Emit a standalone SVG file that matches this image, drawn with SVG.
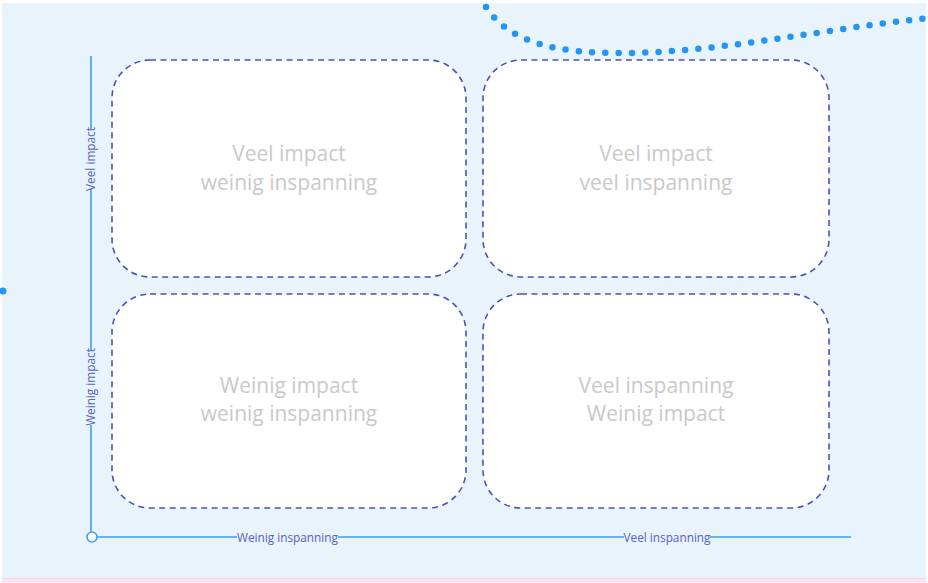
<svg xmlns="http://www.w3.org/2000/svg" width="928" height="583" viewBox="0 0 928 583">
<style>
.box{fill:#ffffff;stroke:#4a52b8;stroke-width:1.6;stroke-dasharray:6 4.5}
.qt{font-family:"Open Sans","Noto Sans",sans-serif;font-size:21px;fill:#c9c9c9;text-anchor:middle}
.ax{stroke:#3d9ff0;stroke-width:1.6;fill:none}
.al{font-family:"Open Sans","Noto Sans",sans-serif;font-size:11.8px;fill:#5661c0;text-anchor:middle;dominant-baseline:central}
</style>
<rect x="0" y="0" width="928" height="583" fill="#ffffff"/>
<rect x="2" y="3" width="924" height="575" fill="#e8f3fc"/>
<rect x="2" y="578" width="924" height="5" fill="#fbe4f1"/>
<line x1="2" y1="578.5" x2="926" y2="578.5" stroke="#f3d6e6" stroke-width="1"/>
<path d="M486,7 C510,44 560,53 620,53 C720,53 820,29 930,18" fill="none" stroke="#2196f3" stroke-width="6.5" stroke-linecap="round" stroke-dasharray="0 13.3"/>
<circle cx="3" cy="291" r="3.5" fill="#2196f3"/>
<g id="node-q1">
<rect class="box" x="112" y="60" width="354" height="217" rx="38"/>
<text class="qt" x="289" y="161">Veel impact</text>
<text class="qt" x="289" y="190">weinig inspanning</text>
</g>
<g id="node-q2">
<rect class="box" x="483" y="60" width="346" height="217" rx="38"/>
<text class="qt" x="656" y="161">Veel impact</text>
<text class="qt" x="656" y="190">veel inspanning</text>
</g>
<g id="node-q3">
<rect class="box" x="112" y="294" width="354" height="214" rx="38"/>
<text class="qt" x="289" y="393">Weinig impact</text>
<text class="qt" x="289" y="421">weinig inspanning</text>
</g>
<g id="node-q4">
<rect class="box" x="483" y="294" width="346" height="214" rx="38"/>
<text class="qt" x="656" y="393">Veel inspanning</text>
<text class="qt" x="656" y="421">Weinig impact</text>
</g>
<g id="connectors">
<line class="ax" x1="91" y1="56" x2="91" y2="129"/>
<line class="ax" x1="91" y1="189" x2="91" y2="350"/>
<line class="ax" x1="91" y1="425" x2="91" y2="532"/>
<line class="ax" x1="97" y1="537" x2="237" y2="537"/>
<line class="ax" x1="338" y1="537" x2="624" y2="537"/>
<line class="ax" x1="710" y1="537" x2="851" y2="537"/>
<circle cx="92" cy="537" r="5" fill="#ffffff" stroke="#3d9ff0" stroke-width="1.6"/>
<text class="al" transform="translate(90,159) rotate(-90)">Veel impact</text>
<text class="al" transform="translate(90,387) rotate(-90)">Weinig impact</text>
<text class="al" x="287.5" y="537">Weinig inspanning</text>
<text class="al" x="667" y="537">Veel inspanning</text>
</g>
</svg>
